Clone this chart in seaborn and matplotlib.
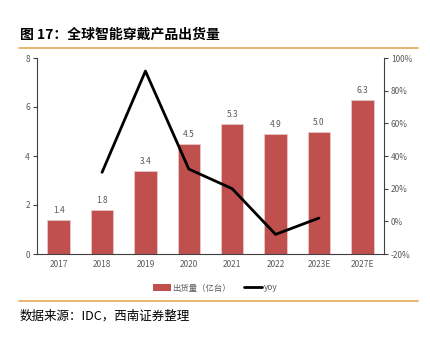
import matplotlib
matplotlib.use("Agg")
import matplotlib.pyplot as plt
import seaborn as sns
import pandas as pd
import numpy as np
from matplotlib.lines import Line2D
from matplotlib.patches import Patch

years = ["2017", "2018", "2019", "2020", "2021", "2022", "2023E", "2027E"]
shipments = [1.4, 1.8, 3.4, 4.5, 5.3, 4.9, 5.0, 6.3]
yoy_years = ["2018", "2019", "2020", "2021", "2022", "2023E"]
yoy = [30, 92, 32, 20, -8, 2]

sns.set_theme(style="white")
plt.rcParams['font.family'] = ['Noto Sans CJK SC', 'DejaVu Sans']

bar_color = "#C0504D"
tick_color = "#595959"
orange = "#E3A857"

fig = plt.figure(figsize=(4.3, 3.39), dpi=100)
ax = fig.add_axes([37/430, 1 - 254/339, (384-37)/430, (254-58)/339])

df = pd.DataFrame({"year": years, "v": shipments})
sns.barplot(data=df, x="year", y="v", color=bar_color, saturation=1, width=0.52, ax=ax,
            edgecolor="#E8C8C6", linewidth=0.6)
ax.set_xlim(-0.5, len(years) - 0.5)
ax.set_ylim(0, 8)
ax.set_yticks([0, 2, 4, 6, 8])
ax.set_xlabel("")
ax.set_ylabel("")
for i, v in enumerate(shipments):
    ax.text(i, v + 0.2, f"{v:.1f}", ha="center", va="bottom", fontsize=6, color=tick_color)

ax2 = ax.twinx()
xi = [years.index(y) for y in yoy_years]
sns.lineplot(x=xi, y=yoy, ax=ax2, color="black", linewidth=2)
ax2.set_ylim(-20, 100)
ax2.set_yticks(range(-20, 101, 20))
ax2.set_yticklabels([f"{t}%" for t in range(-20, 101, 20)])
ax.set_xlim(-0.5, len(years) - 0.5)

for a in (ax, ax2):
    for s in a.spines.values():
        s.set_visible(False)
    a.tick_params(axis="both", labelsize=6, colors=tick_color, length=3, width=0.8, direction="out", pad=2)
    a.tick_params(axis="y", color="#404040")
ax.spines["left"].set_visible(True)
ax.spines["bottom"].set_visible(True)
ax2.spines["right"].set_visible(True)
for s in (ax.spines["left"], ax.spines["bottom"], ax2.spines["right"]):
    s.set_color("#404040")
    s.set_linewidth(0.8)

ax.set_xticks(np.arange(-0.5, len(years)), minor=True)
ax.tick_params(axis="x", which="major", length=0, pad=4)
ax.tick_params(axis="x", which="minor", length=3, color="#404040", width=0.8)
ax.tick_params(axis="y", left=True)
ax2.tick_params(axis="y", right=True)
ax.grid(False)
ax2.grid(False)

handles = [Patch(facecolor=bar_color, edgecolor="none"),
           Line2D([0], [0], color="black", linewidth=2)]
fig.legend(handles, ["出货量（亿台）", "yoy"], loc="center", bbox_to_anchor=(215/430, 1 - 288/339),
           ncol=2, frameon=False, fontsize=6, handlelength=2.2, handleheight=0.9,
           handletextpad=0.2, columnspacing=1.5, labelcolor=tick_color)

fig.text(20/430, 1 - 35/339, "图 17：全球智能穿戴产品出货量", fontsize=10, fontweight="bold",
         ha="left", va="center", color="black")
fig.add_artist(Line2D([19/430, 418/430], [1 - 48/339, 1 - 48/339], color=orange, linewidth=1.2))
fig.add_artist(Line2D([19/430, 418/430], [1 - 301/339, 1 - 301/339], color=orange, linewidth=1.2))
fig.text(20/430, 1 - 316/339, "数据来源：IDC，西南证券整理", fontsize=9, fontstyle="italic",
         ha="left", va="center", color="black")

fig.savefig("out.png", dpi=100)
